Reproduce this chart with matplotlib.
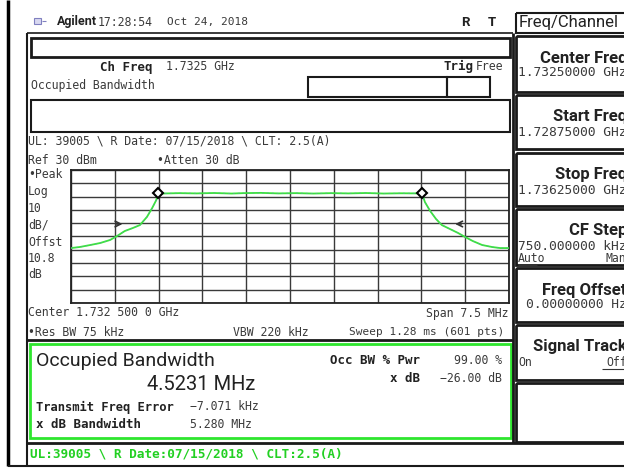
import matplotlib
matplotlib.use("Agg")
import matplotlib.pyplot as plt
from matplotlib.patches import Rectangle
import numpy as np

plt.rcParams['font.family'] = ['DejaVu Sans Mono', 'DejaVu Sans']

# ---------------- data ----------------
center_ghz = 1.7325
span_mhz = 7.5
ref_dbm = 30
db_per_div = 10

# trace: frequency offset from centre (MHz) and level (dBm)
trace_freq = [-3.75, -3.60, -3.42, -3.25, -3.08, -2.96, -2.83, -2.69, -2.57, -2.45,
              -2.36, -2.29, -2.26, -2.20, -1.90, -1.60, -1.30, -1.00, -0.80, -0.50,
              -0.20, 0.10, 0.40, 0.70, 1.00, 1.30, 1.60, 1.90, 2.20, 2.26,
              2.31, 2.40, 2.50, 2.60, 2.74, 2.88, 3.00, 3.13, 3.29, 3.46,
              3.60, 3.75]
trace_dbm = [-28.7, -27.9, -26.4, -24.9, -22.6, -19.6, -15.9, -13.6, -11.4, -5.3,
             1.4, 7.4, 11.9, 12.3, 12.6, 12.4, 12.7, 12.3, 12.6, 12.8,
             12.4, 12.6, 12.3, 12.6, 12.4, 12.7, 12.3, 12.5, 12.4, 12.6,
             5.9, -0.8, -6.8, -11.4, -14.4, -17.4, -20.4, -23.4, -26.4, -27.9,
             -28.7, -28.7]

obw_marker_freq = [-2.26, 2.26]
obw_marker_dbm = [12.6, 12.6]
xdb_marker_freq = [-2.90, 2.86]
xdb_marker_dbm = [-10.6, -10.6]

softkeys = [
    ("Center Freq", "1.73250000 GHz", 36, 92),
    ("Start Freq", "1.72875000 GHz", 95, 149),
    ("Stop Freq", "1.73625000 GHz", 153, 206),
    ("CF Step", "750.000000 kHz", 209, 265),
    ("Freq Offset", "0.00000000 Hz", 268, 322),
    ("Signal Track", "", 325, 380),
    ("", "", 383, 442),
]

left_labels = ["\u2022Peak", "Log", "10", "dB/", "Offst", "10.8", "dB"]
left_label_y = [175, 192, 208, 225, 242, 258, 275]

# ---------------- figure ----------------
W, H = 624, 471
fig = plt.figure(figsize=(W / 100, H / 100), dpi=100)
fig.patch.set_facecolor('white')
bg = fig.add_axes([0, 0, 1, 1])
bg.set_xlim(0, W)
bg.set_ylim(H, 0)
bg.axis('off')

DARK = '#1a1a1a'
GREEN = '#2ee62e'
SANS = ['Roboto', 'DejaVu Sans']


def T(x, y, s, size=8.3, ha='left', va='center', weight='normal', color='#3a3a3a', **kw):
    bg.text(x, y, s, fontsize=size, ha=ha, va=va, fontweight=weight, color=color, **kw)


def R(x0, y0, x1, y1, lw=1.5, ec=DARK, fc='none', z=1):
    bg.add_patch(Rectangle((x0, y0), x1 - x0, y1 - y0, lw=lw, ec=ec, fc=fc, zorder=z))


def L(xs, ys, lw=1.5, color=DARK):
    bg.plot(xs, ys, color=color, lw=lw, solid_capstyle='butt')


# bezel / frames
L([8, 8], [0, 466], lw=2.5, color='black')
L([27, 27], [33, 466], lw=1.5)
L([27, 513], [33, 33], lw=1.2)
L([513, 513], [33, 443], lw=2)
L([8, 624], [466, 466], lw=1.5)
L([27, 624], [443, 443], lw=2)

# title row
bg.add_patch(Rectangle((34, 18), 7, 6, lw=0.8, ec='#8080c0', fc='#d8d8f0'))
L([42, 46], [21, 21], lw=0.8, color='#8080c0')
T(57, 22, "Agilent", size=9, weight='bold', color='#222222', family=SANS)
T(98, 22, "17:28:54", size=8.3)
T(167, 22, "Oct 24, 2018", size=8.0)
T(465, 22, "R", size=9.5, ha='center', weight='bold', color='#222222', family=SANS)
T(492, 22, "T", size=9.5, ha='center', weight='bold', color='#222222', family=SANS)

# top boxes
R(31, 38, 510, 57, lw=2)
T(100, 67, "Ch Freq", size=9, weight='bold', color='#222222')
T(166, 67, "1.7325 GHz", size=8.3)
T(443, 66, "Trig", size=9, weight='bold', color='#222222')
T(476, 66, "Free", size=8.3)
T(31, 86, "Occupied Bandwidth", size=8.3)
R(308, 77, 447, 97, lw=1.5)
R(447, 77, 490, 97, lw=1.5)
R(31, 100, 510, 132, lw=1.5)
T(28, 141, "UL: 39005 \\ R Date: 07/15/2018 \\ CLT: 2.5(A)", size=8.3)

T(28, 160, "Ref 30 dBm", size=8.3)
T(157, 160, "\u2022Atten 30 dB", size=8.3)
for s, y in zip(left_labels, left_label_y):
    T(28, y, s, size=8.3)

T(28, 313, "Center 1.732 500 0 GHz", size=8.3)
T(508, 313, "Span 7.5 MHz", size=8.3, ha='right')
T(28, 332, "\u2022Res BW 75 kHz", size=8.3)
T(233, 332, "VBW 220 kHz", size=8.3)
T(504, 332, "Sweep 1.28 ms (601 pts)", size=8.0, ha='right')

# result box
L([27, 513], [340, 340], lw=2)
R(30, 344, 511, 438, lw=2, ec=GREEN)
T(36, 361, "Occupied Bandwidth", size=14, color='#222222', family=SANS)
T(147, 385, "4.5231 MHz", size=14.5, color='#222222', family=SANS)
T(36, 407, "Transmit Freq Error", size=8.7, weight='bold', color='#222222')
T(190, 407, "\u22127.071 kHz", size=8.3)
T(36, 424, "x dB Bandwidth", size=9, weight='bold', color='#222222')
T(190, 424, "5.280 MHz", size=8.3)
T(420, 361, "Occ BW % Pwr", size=9, ha='right', weight='bold', color='#222222')
T(502, 361, "99.00 %", size=8.3, ha='right')
T(420, 379, "x dB", size=9, ha='right', weight='bold', color='#222222')
T(502, 379, "\u221226.00 dB", size=8.3, ha='right')

# bottom status line
T(30, 454, "UL:39005 \\ R Date:07/15/2018 \\ CLT:2.5(A)", size=9.2, weight='bold', color='#22d022')

# softkeys
R(516, 13, 628, 33, lw=1.5)
T(519, 23, "Freq/Channel", size=12, color='#222222', family=SANS)
for title, val, y0, y1 in softkeys:
    R(516, y0, 628, y1, lw=2)
    if title:
        T(627, y0 + 22, title, size=12, ha='right', weight='bold', color='#222222', family=SANS)
    if val:
        T(627, y0 + 37, val, size=9.3, ha='right')
# CF Step Auto/Man
T(518, 259, "Auto", size=8.3)
L([518, 537], [265, 265], lw=0.8, color='#333333')
T(626, 259, "Man", size=8.3, ha='right')
# Signal Track On/Off
T(518, 363, "On", size=8.3)
T(627, 363, "Off", size=8.3, ha='right')
L([602, 624], [369, 369], lw=0.8, color='#333333')

# ---------------- graticule ----------------
gx0, gx1, gy0, gy1 = 71, 509, 170, 303
ax = fig.add_axes([gx0 / W, 1 - gy1 / H, (gx1 - gx0) / W, (gy1 - gy0) / H])
ax.set_xlim(-span_mhz / 2, span_mhz / 2)
ax.set_ylim(ref_dbm - 10 * db_per_div, ref_dbm)
ax.set_xticks(np.linspace(-span_mhz / 2, span_mhz / 2, 11))
ax.set_yticks(np.arange(ref_dbm - 10 * db_per_div, ref_dbm + 1, db_per_div))
ax.grid(True, color='#3a3a3a', lw=1.0)
ax.tick_params(length=0, labelbottom=False, labelleft=False)
for sp in ax.spines.values():
    sp.set_color('#222222')
    sp.set_linewidth(1.3)
ax.set_facecolor('white')

ax.plot(trace_freq, trace_dbm, color='#39e639', lw=1.3, zorder=3)
ax.plot(trace_freq, trace_dbm, color='#5fa0a0', lw=0.7, ls=(0, (2, 3)), alpha=0.7, zorder=4)
ax.plot(obw_marker_freq, obw_marker_dbm, ls='none', marker='D', ms=5,
        mfc='white', mec='black', mew=1.5, zorder=5)
ax.annotate("", xy=(xdb_marker_freq[0] + 0.08, xdb_marker_dbm[0]),
            xytext=(xdb_marker_freq[0] - 0.12, xdb_marker_dbm[0]),
            arrowprops=dict(arrowstyle='->', color='#333333', lw=1.2), zorder=5)
ax.annotate("", xy=(xdb_marker_freq[1] - 0.08, xdb_marker_dbm[1]),
            xytext=(xdb_marker_freq[1] + 0.12, xdb_marker_dbm[1]),
            arrowprops=dict(arrowstyle='->', color='#333333', lw=1.2), zorder=5)

fig.savefig("out.png", dpi=100, facecolor='white')
